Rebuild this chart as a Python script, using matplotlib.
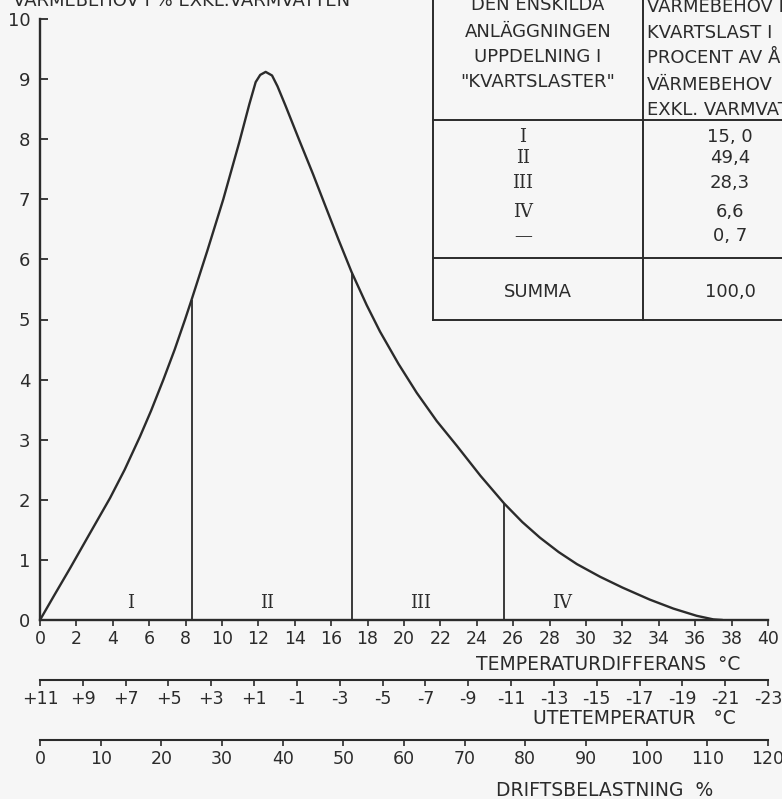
import matplotlib.pyplot as plt
import numpy as np

# curve: heat demand (%) vs temperature difference (degC)
temp_diff = [0, 0.8, 1.65, 2.7, 3.85, 4.65, 5.49, 6.1, 6.78, 7.4, 7.97, 8.33,
             9.2, 10.07, 10.95, 11.5, 11.85, 12.1, 12.4, 12.75, 13.05, 13.5,
             14.25, 15.0, 15.64, 16.4, 17.12, 17.95, 18.68, 19.7, 20.7, 21.8,
             22.9, 24.2, 25.5, 26.5, 27.47, 28.5, 29.5, 30.77, 32.0, 33.5,
             34.8, 36.08, 37.0, 37.5]
heat_demand = [0, 0.42, 0.86, 1.42, 2.03, 2.5, 3.05, 3.48, 4.0, 4.5, 5.0, 5.33,
               6.15, 7.0, 7.95, 8.58, 8.95, 9.07, 9.12, 9.06, 8.88, 8.55,
               7.98, 7.42, 6.92, 6.33, 5.79, 5.24, 4.80, 4.26, 3.78, 3.31,
               2.90, 2.40, 1.94, 1.63, 1.37, 1.13, 0.93, 0.72, 0.54, 0.34,
               0.19, 0.07, 0.01, 0.0]

# quarter-load boundaries
bound_x = [8.33, 17.12, 25.5]
bound_h = [5.33, 5.79, 1.94]

section_names = ['I', 'II', 'III', 'IV']
section_x = [5.0, 12.5, 20.9, 28.7]

diff_ticks = list(range(0, 41, 2))
ute_ticks = list(range(11, -24, -2))
drift_ticks = list(range(0, 121, 10))

table_symbols = ['I', 'II', 'III', 'IV', '—']
table_values = ['15, 0', '49,4', '28,3', '6,6', '0, 7']
table_sum = '100,0'

ink = '#2b2b2b'
bg = '#f6f6f6'
W, H = 782, 799

plt.rcParams['font.family'] = ['DejaVu Sans']
plt.rcParams['text.color'] = ink
plt.rcParams['axes.edgecolor'] = ink
plt.rcParams['xtick.color'] = ink
plt.rcParams['ytick.color'] = ink

fig = plt.figure(figsize=(W / 100, H / 100), dpi=100, facecolor=bg)

def fx(px):
    return px / W

def fy(py):
    return (H - py) / H

# main chart
ax = fig.add_axes([fx(40), fy(620), fx(768) - fx(40), fy(19) - fy(620)])
ax.set_facecolor('none')
ax.plot(temp_diff, heat_demand, color=ink, lw=1.7, solid_capstyle='round',
        solid_joinstyle='round')
ax.vlines(bound_x, 0, bound_h, color=ink, lw=1.3)
for name, x in zip(section_names, section_x):
    ax.text(x, 0.28, name, ha='center', va='center', fontsize=13,
            family='DejaVu Serif')
ax.set_xlim(0, 40)
ax.set_ylim(0, 10)
ax.spines['top'].set_visible(False)
ax.spines['right'].set_visible(False)
ax.spines['left'].set_linewidth(1.7)
ax.spines['bottom'].set_linewidth(1.7)
ax.set_xticks(diff_ticks)
ax.set_yticks(range(0, 11))
ax.tick_params(axis='y', direction='in', length=6, width=1.3, pad=7, labelsize=13)
ax.tick_params(axis='x', direction='out', length=4, width=1.2, pad=3, labelsize=12.5)

# outdoor temperature scale
ax2 = fig.add_axes([fx(40), fy(680), fx(768) - fx(40), 0.0001])
ax2.set_facecolor('none')
for s in ['top', 'left', 'right']:
    ax2.spines[s].set_visible(False)
ax2.spines['bottom'].set_linewidth(1.5)
ax2.set_xlim(11, -23)
ax2.set_xticks(ute_ticks)
ax2.set_xticklabels([('+%d' % t) if t > 0 else ('-%d' % -t) for t in ute_ticks])
ax2.set_yticks([])
ax2.tick_params(axis='x', direction='out', length=4, width=1.2, pad=3, labelsize=12.5)

# operating load scale
ax3 = fig.add_axes([fx(40), fy(740), fx(768) - fx(40), 0.0001])
ax3.set_facecolor('none')
for s in ['top', 'left', 'right']:
    ax3.spines[s].set_visible(False)
ax3.spines['bottom'].set_linewidth(1.5)
ax3.set_xlim(0, 120)
ax3.set_xticks(drift_ticks)
ax3.set_yticks([])
ax3.tick_params(axis='x', direction='out', length=4, width=1.2, pad=3, labelsize=12.5)

fig.text(fx(608), fy(664), 'TEMPERATURDIFFERANS  °C', ha='center', va='center', fontsize=13.5)
fig.text(fx(634), fy(719), 'UTETEMPERATUR   °C', ha='center', va='center', fontsize=13.5)
fig.text(fx(605), fy(790), 'DRIFTSBELASTNING  %', ha='center', va='center', fontsize=13.5)

# y-axis title, cut off at the top edge of the scan
fig.text(fx(13), fy(6), 'VÄRMEBEHOV I % EXKL.VARMVATTEN', ha='left', va='baseline',
         fontsize=13)

# table in the upper right corner (pixel layout)
tab = fig.add_axes([0, 0, 1, 1])
tab.set_facecolor('none')
tab.set_xlim(0, W)
tab.set_ylim(H, 0)
tab.axis('off')
lk = dict(color=ink, lw=1.4)
tab.plot([433, 433], [-5, 320], **lk)
tab.plot([643, 643], [-5, 320], **lk)
tab.plot([433, W + 5], [120, 120], **lk)
tab.plot([433, W + 5], [258, 258], **lk)
tab.plot([433, W + 5], [320, 320], **lk)

left_head = ['DEN ENSKILDA', 'ANLÄGGNINGEN', 'UPPDELNING I', '"KVARTSLASTER"']
left_y = [5, 32, 57, 82]
for t, y in zip(left_head, left_y):
    tab.text(538, y, t, ha='center', va='center', fontsize=13)
right_head = ['VÄRMEBEHOV FÖR', 'KVARTSLAST I', 'PROCENT AV ÅRETS',
              'VÄRMEBEHOV', 'EXKL. VARMVATTEN']
right_y = [7, 33, 58, 85, 110]
for t, y in zip(right_head, right_y):
    tab.text(647, y, t, ha='left', va='center', fontsize=13)
row_y = [137, 158, 183, 212, 236]
for sym, val, y in zip(table_symbols, table_values, row_y):
    tab.text(523, y, sym, ha='center', va='center', fontsize=13, family='DejaVu Serif')
    tab.text(730, y, val, ha='center', va='center', fontsize=13)
tab.text(538, 292, 'SUMMA', ha='center', va='center', fontsize=13)
tab.text(730, 292, table_sum, ha='center', va='center', fontsize=13)

fig.savefig('out.png', dpi=100, facecolor=bg)
